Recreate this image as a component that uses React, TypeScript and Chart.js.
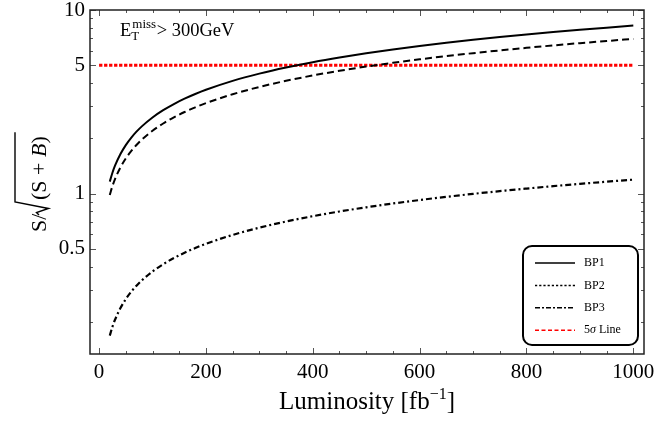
import { useEffect, useRef } from "react";
import { Chart, registerables } from "chart.js";

Chart.register(...registerables);

// Integrated luminosity (fb^-1) at which each significance curve is sampled
const luminosity = [20, 25, 30, 40, 50, 60, 70, 80, 100, 120, 140, 160, 180, 200, 250, 300, 350, 400, 450, 500, 550, 600, 650, 700, 750, 800, 850, 900, 950, 1000];

// S/sqrt(S+B) for the three benchmark points
const bp1 = [1.163, 1.3, 1.424, 1.644, 1.838, 2.014, 2.175, 2.325, 2.6, 2.848, 3.076, 3.289, 3.488, 3.677, 4.111, 4.503, 4.864, 5.2, 5.515, 5.814, 6.098, 6.369, 6.629, 6.879, 7.12, 7.354, 7.58, 7.8, 8.014, 8.222];
const bp2 = [0.984, 1.1, 1.205, 1.391, 1.556, 1.704, 1.841, 1.968, 2.2, 2.41, 2.603, 2.783, 2.952, 3.111, 3.478, 3.811, 4.116, 4.4, 4.667, 4.919, 5.159, 5.389, 5.609, 5.821, 6.025, 6.222, 6.414, 6.6, 6.781, 6.957];
const bp3 = [0.1686, 0.1885, 0.2065, 0.2384, 0.2666, 0.292, 0.3154, 0.3372, 0.377, 0.413, 0.4461, 0.4769, 0.5058, 0.5332, 0.5961, 0.653, 0.7053, 0.754, 0.7997, 0.843, 0.8841, 0.9235, 0.9612, 0.9975, 1.0325, 1.0663, 1.0991, 1.131, 1.162, 1.192];

// 5 sigma discovery threshold
const sigmaLineX = [0, 1000];
const sigmaLineY = [5, 5];

// Axis ticks
const xMajorTicks = [0, 200, 400, 600, 800, 1000];
const xMinorTicks = [50, 100, 150, 250, 300, 350, 450, 500, 550, 650, 700, 750, 850, 900, 950];
const yMajorTicks = [0.5, 1, 5, 10];
const yMinorTicks = [0.2, 0.3, 0.4, 0.6, 0.7, 0.8, 0.9, 2, 3, 4, 6, 7, 8, 9];

const seriesLabels = ["BP1", "BP2", "BP3", "5σ Line"];
// Dash patterns used in the legend samples
const legendDashes = [[], [2.2, 2], [5, 2, 2, 2], [4, 2.5]];

const SERIF = '"Liberation Serif", "Times New Roman", serif';

const pts = (xs: number[], ys: number[]) => xs.map((x, i) => ({ x, y: ys[i] }));

const decorPlugin = {
  id: "decor",
  afterDatasetsDraw(chart: any) {
    const { ctx, chartArea: a, scales } = chart;
    const xs = scales.x;
    const ys = scales.y;
    ctx.save();
    ctx.strokeStyle = "#555";
    ctx.lineWidth = 1;
    const vTick = (v: number, len: number) => {
      const px = Math.round(xs.getPixelForValue(v)) + 0.5;
      ctx.beginPath();
      ctx.moveTo(px, a.bottom);
      ctx.lineTo(px, a.bottom - len);
      ctx.moveTo(px, a.top);
      ctx.lineTo(px, a.top + len);
      ctx.stroke();
    };
    const hTick = (v: number, len: number) => {
      const py = Math.round(ys.getPixelForValue(v)) + 0.5;
      ctx.beginPath();
      ctx.moveTo(a.left, py);
      ctx.lineTo(a.left + len, py);
      ctx.moveTo(a.right, py);
      ctx.lineTo(a.right - len, py);
      ctx.stroke();
    };
    xMajorTicks.forEach((v) => vTick(v, 6));
    xMinorTicks.forEach((v) => vTick(v, 3));
    yMajorTicks.forEach((v) => hTick(v, 6));
    yMinorTicks.forEach((v) => hTick(v, 3));

    ctx.strokeStyle = "#222";
    ctx.lineWidth = 1.5;
    ctx.strokeRect(a.left, a.top, a.right - a.left, a.bottom - a.top);
    ctx.restore();
  },
  afterDraw(chart: any) {
    const { ctx, chartArea: a } = chart;
    ctx.save();
    ctx.fillStyle = "#000";
    ctx.textBaseline = "alphabetic";

    // Cut label in the upper-left corner
    let cx = a.left + 30;
    const by = a.top + 26;
    ctx.font = `18.5px ${SERIF}`;
    ctx.fillText("E", cx, by);
    cx += ctx.measureText("E").width;
    ctx.font = `13px ${SERIF}`;
    ctx.fillText("T", cx, by + 3.5);
    ctx.fillText("miss", cx + 1, by - 8);
    cx += ctx.measureText("miss").width + 1.5;
    ctx.font = `18.5px ${SERIF}`;
    ctx.fillText("> 300GeV", cx, by);

    // x-axis title
    ctx.font = `25px ${SERIF}`;
    const t1 = "Luminosity [fb";
    const w1 = ctx.measureText(t1).width;
    ctx.font = `16px ${SERIF}`;
    const sup = "\u22121";
    const w2 = ctx.measureText(sup).width;
    ctx.font = `25px ${SERIF}`;
    const w3 = ctx.measureText("]").width;
    let tx = (a.left + a.right) / 2 - (w1 + w2 + w3) / 2;
    const ty = 409;
    ctx.fillText(t1, tx, ty);
    tx += w1;
    ctx.font = `16px ${SERIF}`;
    ctx.fillText(sup, tx, ty - 10);
    tx += w2;
    ctx.font = `25px ${SERIF}`;
    ctx.fillText("]", tx, ty);

    // y-axis title: S / sqrt(S + B)
    ctx.save();
    ctx.translate(46, 233);
    ctx.rotate(-Math.PI / 2);
    ctx.font = `22px ${SERIF}`;
    ctx.fillText("S/", 1, 0);
    let rx = 33;
    const parts: [string, string, number][] = [
      ["(", `22px ${SERIF}`, 0],
      ["S", `22px ${SERIF}`, 5.5],
      ["+", `22px ${SERIF}`, 5.5],
      ["B", `italic 22px ${SERIF}`, 0],
      [")", `22px ${SERIF}`, 0],
    ];
    parts.forEach(([s, f, gap]) => {
      ctx.font = f;
      ctx.fillText(s, rx, 0);
      rx += ctx.measureText(s).width + gap;
    });
    ctx.strokeStyle = "#000";
    ctx.lineWidth = 1.4;
    ctx.lineJoin = "miter";
    ctx.beginPath();
    ctx.moveTo(18, -7);
    ctx.lineTo(20.5, -9.5);
    ctx.lineTo(24.5, 2.5);
    ctx.lineTo(31, -31);
    ctx.lineTo(rx + 4, -31);
    ctx.stroke();
    ctx.restore();

    // Legend box
    const lx = 523, ly = 246, lw = 115, lh = 99, r = 9;
    ctx.strokeStyle = "#000";
    ctx.lineWidth = 2;
    ctx.beginPath();
    ctx.moveTo(lx + r, ly);
    ctx.arcTo(lx + lw, ly, lx + lw, ly + lh, r);
    ctx.arcTo(lx + lw, ly + lh, lx, ly + lh, r);
    ctx.arcTo(lx, ly + lh, lx, ly, r);
    ctx.arcTo(lx, ly, lx + lw, ly, r);
    ctx.closePath();
    ctx.fillStyle = "#fff";
    ctx.fill();
    ctx.stroke();

    chart.data.datasets.forEach((ds: any, i: number) => {
      const yy = 263 + i * 22.4;
      ctx.strokeStyle = ds.borderColor;
      ctx.lineWidth = 1.5;
      ctx.setLineDash(legendDashes[i]);
      ctx.beginPath();
      ctx.moveTo(535, yy);
      ctx.lineTo(575, yy);
      ctx.stroke();
      ctx.setLineDash([]);
      ctx.fillStyle = "#000";
      ctx.textBaseline = "middle";
      let lxx = 584;
      const label: string = ds.label;
      const k = label.indexOf("σ");
      if (k >= 0) {
        const segs: [string, string][] = [
          [label.slice(0, k), `12px ${SERIF}`],
          ["σ", `italic 12px ${SERIF}`],
          [label.slice(k + 1), `12px ${SERIF}`],
        ];
        segs.forEach(([s, f]) => {
          ctx.font = f;
          ctx.fillText(s, lxx, yy);
          lxx += ctx.measureText(s).width;
        });
      } else {
        ctx.font = `12px ${SERIF}`;
        ctx.fillText(label, lxx, yy);
      }
    });
    ctx.restore();
  },
};

export default function App() {
  const ref = useRef<HTMLCanvasElement | null>(null);

  useEffect(() => {
    if (!ref.current) return;
    const line = { pointRadius: 0, fill: false, cubicInterpolationMode: "monotone" as const };
    const chart = new Chart(ref.current, {
      type: "line",
      data: {
        datasets: [
          { ...line, label: seriesLabels[0], data: pts(luminosity, bp1), borderColor: "#000", borderWidth: 2 },
          { ...line, label: seriesLabels[1], data: pts(luminosity, bp2), borderColor: "#000", borderWidth: 2, borderDash: [7, 4] },
          { ...line, label: seriesLabels[2], data: pts(luminosity, bp3), borderColor: "#000", borderWidth: 2.2, borderDash: [6, 3, 2, 3] },
          { ...line, label: seriesLabels[3], data: pts(sigmaLineX, sigmaLineY), borderColor: "#ff0000", borderWidth: 3, borderDash: [3.3, 1.7] },
        ],
      },
      options: {
        animation: false,
        responsive: false,
        devicePixelRatio: 1,
        layout: { padding: { left: 0, top: 10, right: 12, bottom: 0 } },
        plugins: { legend: { display: false }, tooltip: { enabled: false } },
        scales: {
          x: {
            type: "linear",
            min: -17,
            max: 1020,
            grid: { display: false, drawTicks: false },
            border: { display: false },
            afterBuildTicks: (s: any) => {
              s.ticks = xMajorTicks.map((v) => ({ value: v }));
            },
            afterFit: (s: any) => {
              s.height = 69;
              s.paddingLeft = 0;
              s.paddingRight = 0;
            },
            ticks: {
              padding: 6,
              maxRotation: 0,
              autoSkip: false,
              color: "#000",
              font: { family: SERIF, size: 21 },
              callback: (v: any) => String(v),
            },
          },
          y: {
            type: "logarithmic",
            min: 0.134,
            max: 10,
            grid: { display: false, drawTicks: false },
            border: { display: false },
            afterBuildTicks: (s: any) => {
              s.ticks = yMajorTicks.map((v) => ({ value: v }));
            },
            afterFit: (s: any) => {
              s.width = 90;
              s.paddingTop = 0;
              s.paddingBottom = 0;
            },
            ticks: {
              padding: 5,
              autoSkip: false,
              color: "#000",
              font: { family: SERIF, size: 21 },
              callback: (v: any) => String(v),
            },
          },
        },
      },
      plugins: [decorPlugin],
    });
    return () => chart.destroy();
  }, []);

  return (
    <div style={{ position: "fixed", left: 0, top: 0, width: 656, height: 423, background: "#fff" }}>
      <canvas ref={ref} width={656} height={423} />
    </div>
  );
}
